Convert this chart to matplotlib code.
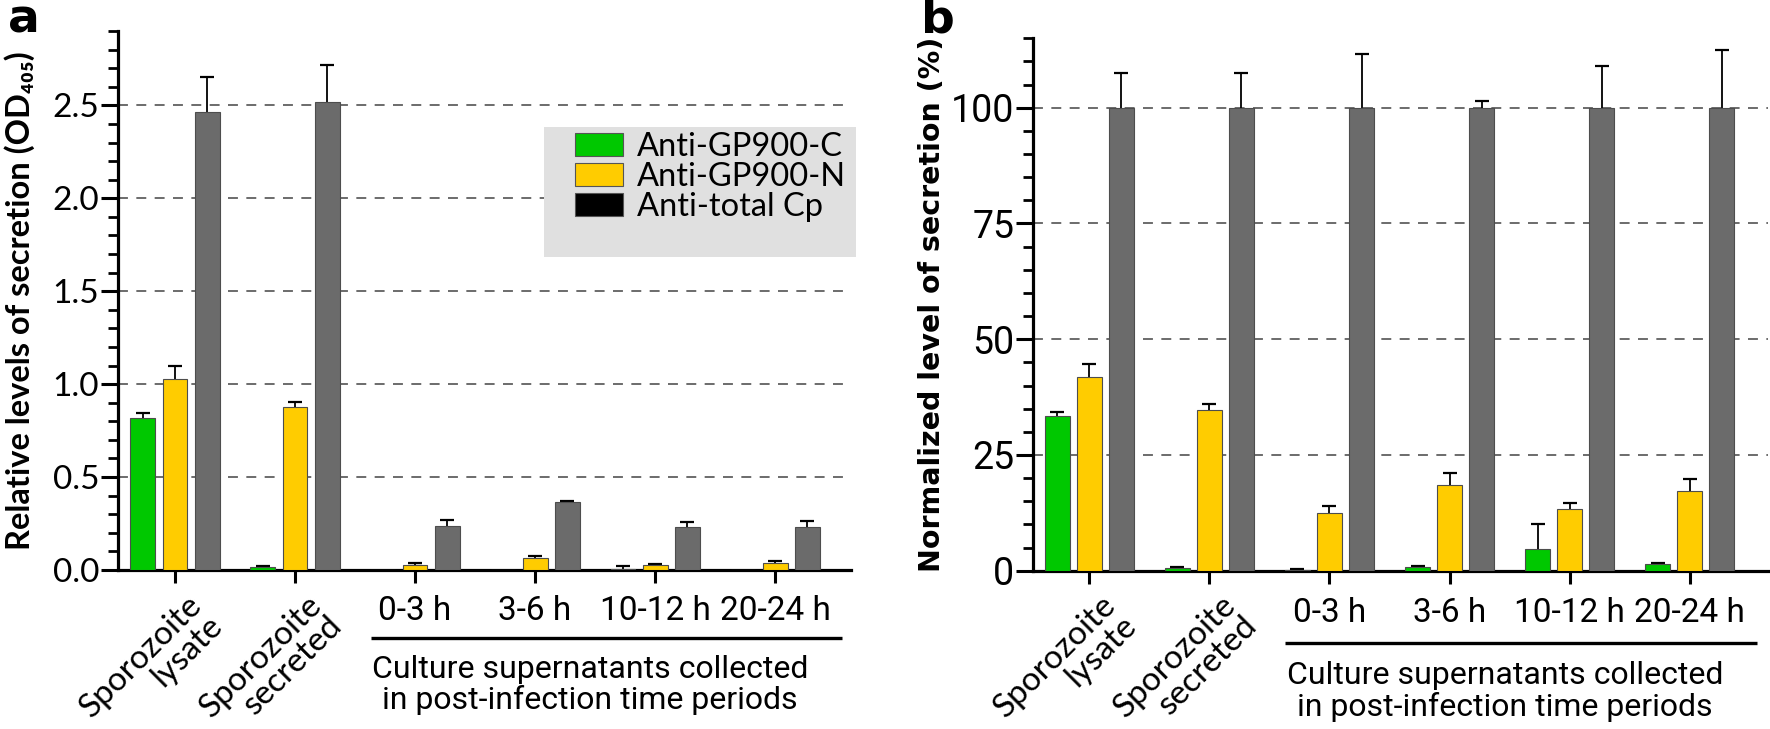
import matplotlib
matplotlib.use("Agg")
import matplotlib.pyplot as plt
import numpy as np
from matplotlib.patches import Patch, Rectangle
from matplotlib.ticker import MultipleLocator, FormatStrFormatter
from matplotlib.font_manager import FontProperties, fontManager

W, H = 1770, 729

groups = ["Sporozoite\nlysate", "Sporozoite\nsecreted", "0-3 h", "3-6 h", "10-12 h", "20-24 h"]
series = ["Anti-GP900-C", "Anti-GP900-N", "Anti-total Cp"]
colors = ["#00c800", "#ffcc00", "#6b6b6b"]
legend_colors = ["#00c800", "#ffcc00", "#000000"]

# panel a: relative OD405
od_c = [0.82, 0.015, 0.0, 0.0, 0.007, 0.0]
od_c_err = [0.024, 0.007, 0.0, 0.0, 0.015, 0.0]
od_n = [1.03, 0.876, 0.029, 0.065, 0.027, 0.038]
od_n_err = [0.068, 0.029, 0.007, 0.012, 0.007, 0.010]
od_total = [2.464, 2.52, 0.239, 0.365, 0.23, 0.233]
od_total_err = [0.187, 0.196, 0.029, 0.008, 0.027, 0.033]

# panel b: normalized to total Cp (%)
pct_c = [33.4, 0.6, 0.2, 0.8, 4.6, 1.4]
pct_c_err = [0.9, 0.2, 0.1, 0.2, 5.5, 0.3]
pct_n = [41.9, 34.8, 12.5, 18.6, 13.4, 17.2]
pct_n_err = [2.7, 1.1, 1.4, 2.4, 1.3, 2.7]
pct_total = [100, 100, 100, 100, 100, 100]
pct_total_err = [7.6, 7.6, 11.7, 1.4, 9.1, 12.4]

bracket_text = "Culture supernatants collected\nin post-infection time periods"

installed = {f.name for f in fontManager.ttflist}
COND = "Liberation Sans Narrow" if "Liberation Sans Narrow" in installed else "Roboto"
REG = "Lato" if "Lato" in installed else "DejaVu Sans"


def draw_panel(ax, values, errs, ylim, major, minor, fmt, tick_font, tick_size, xlim,
               ylabel, ylabel_font, ylabel_size, ylabel_x, time_y, line_y, text_y):
    x = np.arange(len(groups))
    pitch, width = 0.267, 0.208
    for k, (vals, err) in enumerate(zip(values, errs)):
        xs = x + (k - 1) * pitch
        ax.bar(xs, vals, width, color=colors[k], edgecolor="#4d4d4d", linewidth=0.8, zorder=3)
        err = np.array(err)
        keep = err > 0
        ax.errorbar(xs[keep], np.array(vals)[keep], yerr=err[keep], fmt="none", ecolor="black",
                    elinewidth=1.3, capsize=4.8, capthick=1.6, zorder=2.5)

    ax.set_xlim(*xlim)
    ax.set_ylim(*ylim)
    ax.yaxis.set_major_locator(MultipleLocator(major))
    ax.yaxis.set_minor_locator(MultipleLocator(minor))
    if fmt:
        ax.yaxis.set_major_formatter(FormatStrFormatter(fmt))
    for gy in np.arange(major, ylim[1], major):
        ax.axhline(gy, color="#444444", lw=1.1, ls=(0, (6.5, 5.5)), zorder=1)

    for s in ("top", "right"):
        ax.spines[s].set_visible(False)
    for s in ("left", "bottom"):
        ax.spines[s].set_linewidth(2.3)
    ax.tick_params(axis="y", which="major", length=12, width=2.2, pad=1.5)
    ax.tick_params(axis="y", which="minor", length=7, width=2.0)
    ax.tick_params(axis="x", which="major", length=9.5, width=2.2)
    ax.set_xticks(x)
    ax.set_xticklabels([])
    for lab in ax.get_yticklabels():
        lab.set_fontfamily(tick_font)
        lab.set_fontsize(tick_size)

    tr = ax.get_xaxis_transform()
    for i, g in enumerate(groups):
        if "\n" in g:
            ax.text(x[i] + 0.27, -0.075, g, transform=tr, rotation=45, rotation_mode="anchor",
                    ha="right", va="center", multialignment="right",
                    fontfamily=REG, fontsize=24, linespacing=0.95)
        else:
            ax.text(x[i], time_y, g, transform=tr, ha="center", va="center",
                    fontfamily=COND, fontsize=24)
    ax.plot([1.633, 5.56], [line_y, line_y], transform=tr, color="black", lw=2.4,
            clip_on=False, solid_capstyle="butt")
    ax.text(3.46, text_y, bracket_text, transform=tr, ha="center", va="center",
            fontfamily=COND, fontsize=23, linespacing=1.05)

    ax.set_ylabel(ylabel, fontfamily=ylabel_font, fontweight="bold", fontsize=ylabel_size)
    ax.yaxis.set_label_coords(ylabel_x, 0.5)


fig = plt.figure(figsize=(W / 100, H / 100), dpi=100)
ax_a = fig.add_axes([118 / W, (H - 570) / H, (851 - 118) / W, (570 - 31) / H])
ax_b = fig.add_axes([1033 / W, (H - 570.7) / H, (1768 - 1033) / W, (570.7 - 38.3) / H])

draw_panel(ax_a, [od_c, od_n, od_total], [od_c_err, od_n_err, od_total_err],
           (0, 2.9), 0.5, 0.1, "%.1f", REG, 24, (-0.475, 5.633),
           "Relative levels of secretion (OD\u2084\u2080\u2085)", [REG, "DejaVu Sans"], 23.5,
           -0.113, -0.076, -0.126, -0.214)
draw_panel(ax_b, [pct_c, pct_n, pct_total], [pct_c_err, pct_n_err, pct_total_err],
           (0, 115), 25, 5, None, COND, 27, (-0.467, 5.65),
           "Normalized level of secretion (%)", ["DejaVu Sans"], 20.5,
           -0.118, -0.08, -0.136, -0.227)

# legend box in panel a
ax_a.add_patch(Rectangle((544 / W, 1 - 257 / H), (856 - 544) / W, (257 - 127) / H,
                         transform=fig.transFigure, facecolor="#e0e0e0", edgecolor="none",
                         zorder=4, clip_on=False))
handles = [Patch(facecolor=c, edgecolor="#555555", linewidth=0.8) for c in legend_colors]
leg = ax_a.legend(handles, series, loc="upper left", bbox_to_anchor=(575 / W, 1 - 132 / H),
                  bbox_transform=fig.transFigure, frameon=False, borderpad=0, borderaxespad=0,
                  prop=FontProperties(family=REG, size=23.5), handlelength=1.47,
                  handleheight=0.67, handletextpad=0.42, labelspacing=0.0)
leg.set_zorder(5)

fig.text(8 / W, 1 - 20 / H, "a", fontfamily="DejaVu Sans", fontweight="bold", fontsize=34,
         va="center")
fig.text(921 / W, 1 - 20 / H, "b", fontfamily="DejaVu Sans", fontweight="bold", fontsize=34,
         va="center")

fig.savefig("out.png", dpi=100)
